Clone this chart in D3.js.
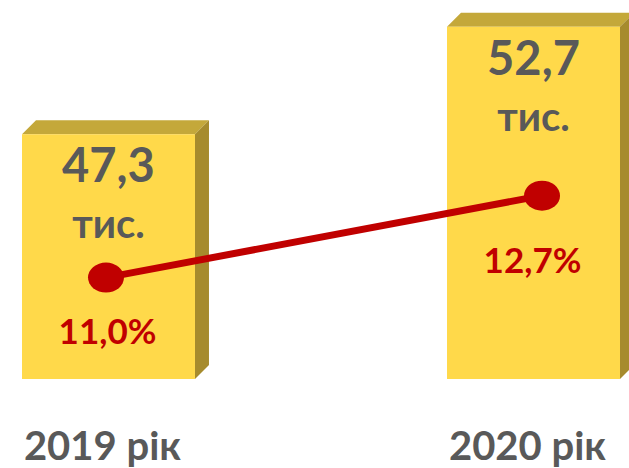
<!DOCTYPE html>
<html>
<head>
<meta charset="utf-8">
<script src="https://cdn.jsdelivr.net/npm/d3@7"></script>
<style>
  body { margin: 0; background: #fff; }
  text { font-family: Lato, "Open Sans", sans-serif; font-weight: 700; }
</style>
</head>
<body>
<svg id="svg" width="629" height="468"></svg>
<script>
// data
var years = ["2019 рік", "2020 рік"];
var counts = [47.3, 52.7];          // тис.
var countLabels = ["47,3", "52,7"];
var shares = [11.0, 12.7];          // %
var shareLabels = ["11,0%", "12,7%"];

var width = 629, height = 468;
var svg = d3.select("svg");

var depth = 14;
var grey = "#595959", red = "#C00000";

var x = d3.scaleBand().domain(years).range([22, 620]).paddingInner(0.593).paddingOuter(0);
var y = d3.scaleLinear().domain([35, 55]).range([379, -19]);

// line sits on its own axis
var x2 = d3.scalePoint().domain(years).range([106, 542]);
var y2 = d3.scaleLinear().domain([9, 14]).range([374, 133]);

var pctDy = [66, 77];

// bars (3d boxes)
var bars = svg.append("g").selectAll("g").data(counts).join("g");

bars.append("path") // top face
  .attr("fill", "#C4A83A")
  .attr("d", function(d, i) {
    var x0 = x(years[i]), x1 = x0 + x.bandwidth(), yt = y(d);
    return "M" + x0 + "," + yt + "L" + (x0 + depth) + "," + (yt - depth) +
      "L" + (x1 + depth) + "," + (yt - depth) + "L" + x1 + "," + yt + "Z";
  });

bars.append("path") // side face
  .attr("fill", "#A68B2D")
  .attr("d", function(d, i) {
    var x1 = x(years[i]) + x.bandwidth(), yt = y(d), yb = y(35);
    return "M" + x1 + "," + yt + "L" + (x1 + depth) + "," + (yt - depth) +
      "L" + (x1 + depth) + "," + (yb - depth) + "L" + x1 + "," + yb + "Z";
  });

bars.append("rect") // front
  .attr("fill", "#FFD94A")
  .attr("x", function(d, i) { return x(years[i]); })
  .attr("y", function(d) { return y(d); })
  .attr("width", x.bandwidth())
  .attr("height", function(d) { return y(35) - y(d); });

// value labels
bars.append("text")
  .attr("x", function(d, i) { return x(years[i]) + x.bandwidth() / 2; })
  .attr("y", function(d) { return y(d) + 48; })
  .attr("text-anchor", "middle")
  .attr("fill", grey)
  .style("font-size", "47px")
  .text(function(d, i) { return countLabels[i]; });

bars.append("text")
  .attr("x", function(d, i) { return x(years[i]) + x.bandwidth() / 2; })
  .attr("y", function(d) { return y(d) + 104; })
  .attr("text-anchor", "middle")
  .attr("fill", grey)
  .style("font-size", "40px")
  .text("тис.");

// line
var line = d3.line()
  .x(function(d, i) { return x2(years[i]); })
  .y(function(d) { return y2(d); });

svg.append("path")
  .datum(shares)
  .attr("d", line)
  .attr("fill", "none")
  .attr("stroke", red)
  .attr("stroke-width", 7);

svg.append("g").selectAll("ellipse").data(shares).join("ellipse")
  .attr("cx", function(d, i) { return x2(years[i]); })
  .attr("cy", function(d) { return y2(d); })
  .attr("rx", 18)
  .attr("ry", 15)
  .attr("fill", red);

svg.append("g").selectAll("text").data(shares).join("text")
  .attr("x", function(d, i) { return x(years[i]) + x.bandwidth() / 2 - 1; })
  .attr("y", function(d, i) { return y2(d) + pctDy[i]; })
  .attr("text-anchor", "middle")
  .attr("fill", red)
  .style("font-size", "35px")
  .text(function(d, i) { return shareLabels[i]; });

// category labels
svg.append("g").selectAll("text").data(years).join("text")
  .attr("x", function(d) { return x(d) + x.bandwidth() / 2 - 6; })
  .attr("y", 460)
  .attr("text-anchor", "middle")
  .attr("fill", grey)
  .style("font-size", "40px")
  .text(function(d) { return d; });
</script>
</body>
</html>
